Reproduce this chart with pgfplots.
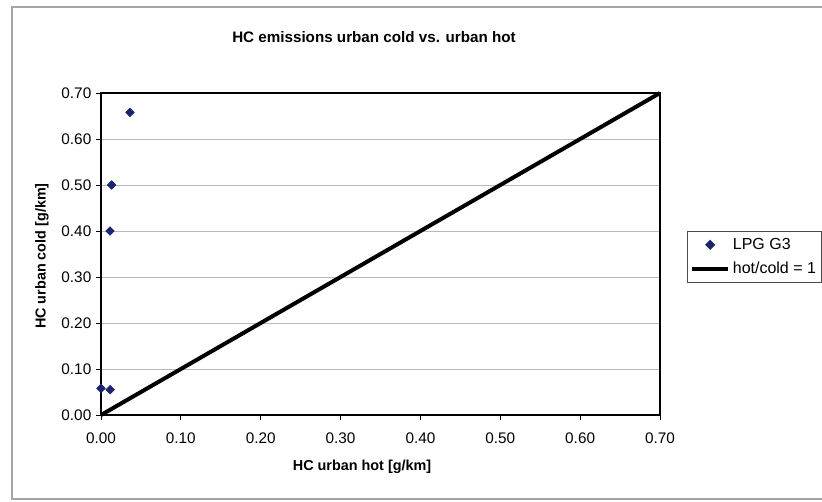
\documentclass[border=0pt]{standalone}
\usepackage{pgfplots}
\pgfplotsset{compat=1.18}
\usepackage{fontspec}
\setmainfont{Liberation Sans}
\definecolor{navyblue}{RGB}{28,36,110}
\definecolor{framegray}{RGB}{165,165,165}

\pgfplotsset{
  marklegend/.style={legend image code/.code={\draw[mark repeat=2,mark phase=2,##1] plot coordinates {(0pt,0pt) (13.5pt,0pt) (27pt,0pt)};}},
  linelegend/.style={legend image code/.code={\draw[##1] (0pt,0pt) -- (27pt,0pt);}},
}

\begin{document}
\begin{tikzpicture}
\useasboundingbox (0,0) rectangle (616.5pt,375.75pt);
% outer chart border (right edge is cut off in the reference)
\draw[framegray, line width=0.9pt] (616.5pt,1.5pt) -- (9pt,1.5pt) -- (9pt,370.5pt) -- (616.5pt,370.5pt);
\begin{axis}[
  at={(75.75pt,64.5pt)}, anchor=south west,
  scale only axis, width=419.25pt, height=241.5pt,
  xmin=0, xmax=0.7, ymin=0, ymax=0.7,
  xtick={0,0.1,0.2,0.3,0.4,0.5,0.6,0.7},
  ytick={0,0.1,0.2,0.3,0.4,0.5,0.6,0.7},
  xtick pos=bottom, ytick pos=left,
  tick align=outside, major tick length=3.75pt,
  tick style={black, line width=0.7pt},
  axis line style={black, line width=0.9pt},
  ymajorgrids, grid style={gray!55, line width=0.7pt},
  /pgf/number format/.cd, fixed, zerofill, precision=2, assume math mode=true,
  /pgfplots/.cd,
  tick label style={font=\fontsize{11.5}{13}\selectfont},
  xticklabel style={yshift=-6pt},
  every axis title shift=8pt,
  title={HC emissions urban cold vs. urban hot},
  title style={font=\bfseries\fontsize{11.4}{13}\selectfont, at={(axis description cs:0.4884,1.1398)}, anchor=center},
  xlabel={HC urban hot [g/km]},
  xlabel style={font=\bfseries\fontsize{10.8}{12}\selectfont, at={(axis description cs:0.467,-0.1615)}, anchor=center},
  ylabel={HC urban cold [g/km]},
  ylabel style={font=\bfseries\fontsize{10.8}{12}\selectfont, at={(axis description cs:-0.1055,0.4938)}, anchor=center},
  legend style={at={(1.0483,0.5714)}, anchor=north west, draw=black!70, line width=0.8pt,
    font=\fontsize{12}{14}\selectfont, inner xsep=2pt, inner ysep=3pt, row sep=4pt},
  legend cell align=left,
  clip=false,
]
\addplot[only marks, mark=square*, mark options={rotate=45}, mark size=2.3pt, color=navyblue, marklegend]
  coordinates {
  (0.000, 0.058)
  (0.0115, 0.055)
  (0.0113, 0.400)
  (0.0134, 0.500)
  (0.0363, 0.658)
};
\addlegendentry{LPG G3}
\addplot[black, line width=3pt, no marks, linelegend]
  coordinates {(0,0) (0.7,0.7)};
\addlegendentry{hot/cold = 1}
\end{axis}
\end{tikzpicture}
\end{document}
